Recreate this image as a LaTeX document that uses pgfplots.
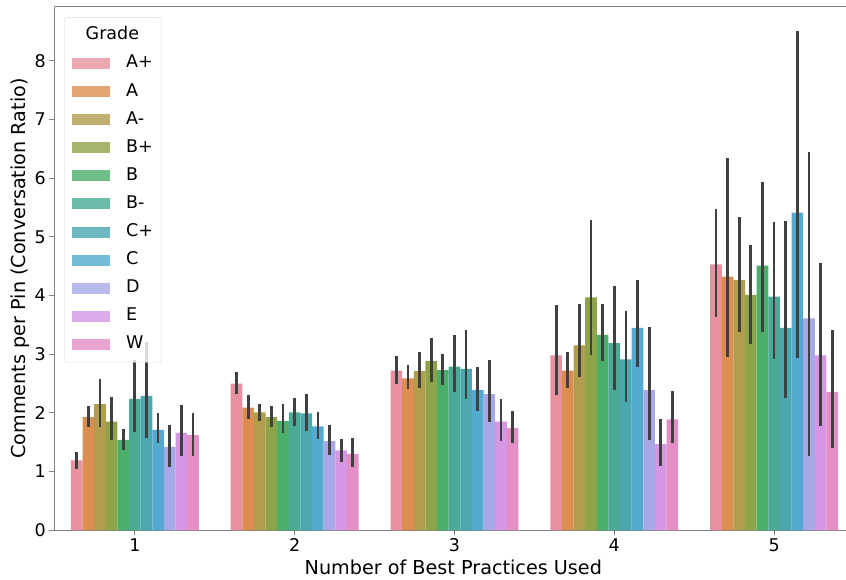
\documentclass[border=0pt]{standalone}
\usepackage{fontspec}
\setmainfont{DejaVu Sans}
\usepackage{pgfplots}
\usepackage{pgfplotstable}
\pgfplotsset{compat=1.18}

\definecolor{cAp}{RGB}{231,146,158}
\definecolor{cA}{RGB}{219,142,79}
\definecolor{cAm}{RGB}{178,156,77}
\definecolor{cBp}{RGB}{143,164,72}
\definecolor{cB}{RGB}{74,175,106}
\definecolor{cBm}{RGB}{75,170,150}
\definecolor{cCp}{RGB}{76,167,175}
\definecolor{cC}{RGB}{82,170,208}
\definecolor{cD}{RGB}{167,169,231}
\definecolor{cE}{RGB}{213,150,228}
\definecolor{cW}{RGB}{228,142,198}
\definecolor{errc}{RGB}{64,64,64}
\definecolor{spine}{RGB}{128,128,128}

\pgfplotstableread{
x y lo hi
1 1.19 1.05 1.33
2 2.50 2.32 2.70
3 2.72 2.50 2.97
4 2.98 2.30 3.83
5 4.53 3.64 5.48
}\tAp
\pgfplotstableread{
x y lo hi
1 1.93 1.76 2.12
2 2.09 1.90 2.31
3 2.59 2.41 2.81
4 2.72 2.43 3.04
5 4.32 2.95 6.34
}\tA
\pgfplotstableread{
x y lo hi
1 2.15 1.76 2.58
2 2.01 1.86 2.16
3 2.71 2.43 3.04
4 3.15 2.62 3.86
5 4.26 3.37 5.33
}\tAm
\pgfplotstableread{
x y lo hi
1 1.85 1.53 2.27
2 1.93 1.76 2.12
3 2.88 2.52 3.27
4 3.97 2.98 5.28
5 4.01 3.18 4.86
}\tBp
\pgfplotstableread{
x y lo hi
1 1.54 1.37 1.73
2 1.86 1.65 2.15
3 2.73 2.48 3.00
4 3.33 2.88 3.85
5 4.51 3.38 5.94
}\tB
\pgfplotstableread{
x y lo hi
1 2.24 1.68 2.90
2 2.01 1.78 2.26
3 2.79 2.36 3.33
4 3.19 2.39 4.16
5 3.98 2.91 5.26
}\tBm
\pgfplotstableread{
x y lo hi
1 2.29 1.58 3.21
2 1.99 1.70 2.33
3 2.75 2.23 3.41
4 2.91 2.18 3.73
5 3.45 2.26 5.27
}\tCp
\pgfplotstableread{
x y lo hi
1 1.71 1.48 1.99
2 1.77 1.56 2.02
3 2.39 2.04 2.78
4 3.45 2.79 4.27
5 5.41 2.93 8.50
}\tC
\pgfplotstableread{
x y lo hi
1 1.42 1.08 1.80
2 1.52 1.29 1.79
3 2.32 1.85 2.90
4 2.39 1.54 3.47
5 3.61 1.27 6.44
}\tD
\pgfplotstableread{
x y lo hi
1 1.66 1.27 2.13
2 1.36 1.16 1.56
3 1.85 1.52 2.24
4 1.47 1.10 1.89
5 2.98 1.77 4.56
}\tE
\pgfplotstableread{
x y lo hi
1 1.62 1.27 1.99
2 1.30 1.08 1.58
3 1.74 1.49 2.03
4 1.89 1.48 2.37
5 2.36 1.41 3.41
}\tW

\newcommand{\grade}[4]{%
  \addplot[fill=#2, draw=none, bar shift=#3,
    error bars/.cd, y dir=both, y explicit]
    table[x=x, y=y, y error plus expr=\thisrow{hi}-\thisrow{y},
          y error minus expr=\thisrow{y}-\thisrow{lo}] {#1};
  \addlegendentry{#4}%
}

\begin{document}
\begin{tikzpicture}
\begin{axis}[
  name=ax,
  scale only axis,
  width=791.7pt, height=523.6pt,
  xmin=0.496, xmax=5.45,
  ymin=0, ymax=8.92,
  ybar, bar width=0.0727273,
  axis lines*=left,
  axis line style={spine, line width=1.2pt},
  tick style={spine, line width=1.1pt},
  major tick length=5pt,
  tick align=outside,
  xtick={1,2,3,4,5},
  ytick={0,1,2,3,4,5,6,7,8},
  /pgf/number format/assume math mode=true,
  ticklabel style={font=\fontsize{17.5}{20}\selectfont, text=black},
  xlabel={Number of Best Practices Used},
  ylabel={Comments per Pin (Conversation Ratio)},
  every axis x label/.style={at={(axis description cs:0.504,-0.070)}, anchor=center,
    font=\fontsize{19.2}{22}\selectfont},
  every axis y label/.style={at={(axis description cs:-0.0433,0.5)}, anchor=center, rotate=90,
    font=\fontsize{19.2}{22}\selectfont},
  error bars/error mark=none,
  error bars/error bar style={line width=2.8pt, errc},
  legend cell align=left,
  legend image code/.code={\fill[#1, sharp corners] (0pt,-5.5pt) rectangle (38pt,5.5pt);},
  legend style={at={(axis description cs:0.0123,0.980)}, anchor=north west,
    draw=black!15, rounded corners=3pt, fill=white, fill opacity=0.8, text opacity=1,
    font=\fontsize{17.5}{21}\selectfont, row sep=12.1pt, inner xsep=8pt, inner ysep=10pt,
    nodes={text height=12.5pt, text depth=3.5pt, inner ysep=0pt, inner xsep=0pt},
    /tikz/every odd column/.append style={column sep=16pt}},
]
\addlegendimage{empty legend}
\addlegendentry{\makebox[0pt][l]{\hspace*{-41pt}Grade}}
\grade{\tAp}{cAp}{-0.3636364}{A+}
\grade{\tA}{cA}{-0.2909091}{A}
\grade{\tAm}{cAm}{-0.2181818}{A-}
\grade{\tBp}{cBp}{-0.1454545}{B+}
\grade{\tB}{cB}{-0.0727273}{B}
\grade{\tBm}{cBm}{0}{B-}
\grade{\tCp}{cCp}{0.0727273}{C+}
\grade{\tC}{cC}{0.1454545}{C}
\grade{\tD}{cD}{0.2181818}{D}
\grade{\tE}{cE}{0.2909091}{E}
\grade{\tW}{cW}{0.3636364}{W}
\draw[spine, line width=1.2pt] (rel axis cs:0,1) -- (rel axis cs:1,1);
\end{axis}
\pgfresetboundingbox
\path ([xshift=-54.3pt,yshift=-49.7pt]ax.south west) rectangle ([yshift=6.7pt]ax.north east);
\end{tikzpicture}
\end{document}
